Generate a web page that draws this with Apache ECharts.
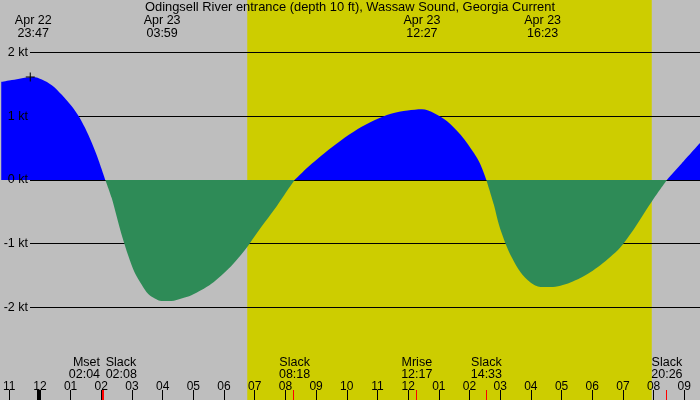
<!DOCTYPE html>
<html lang="en">
<head>
	<meta charset="UTF-8">
	<title>Odingsell River entrance current</title>
	<style>html,body{margin:0;padding:0;background:#bebebe;}</style>
</head>
<body>
	<div id="demo" style="width: 700px;height:400px;"></div>
	<script src="https://cdn.jsdelivr.net/npm/echarts@6/dist/echarts.min.js"></script>
	<script>
		// hours counted from Apr 23 00:00 (negative = Apr 22)
		var startHour = -1.237, endHour = 21.512;
		var sunrise = 6.757, sunset = 19.94;

		// current speed, knots (+ flood, - ebb)
		var times = [-1.26, -0.912, -0.587, -0.217, 0.063, 0.388, 0.713, 1.038, 1.255, 1.470, 1.693, 1.905, 2.133,
			2.338, 2.500, 2.663, 2.880, 3.095, 3.313, 3.530, 3.745, 3.963, 4.288, 4.613, 4.938, 5.263, 5.588,
			5.913, 6.238, 6.563, 6.832, 7.213, 7.645, 7.970, 8.300,
			8.73, 9.27, 9.81, 10.36, 10.90, 11.44, 11.98, 12.45, 12.85, 13.28, 13.71, 14.15, 14.36, 14.55,
			14.795, 14.957, 15.175, 15.393, 15.663, 15.988, 16.313, 16.638, 16.962, 17.287, 17.612, 17.937,
			18.262, 18.587, 18.912, 19.345, 19.670, 19.994, 20.433,
			20.97, 21.53];
		var speeds = [1.54, 1.57, 1.60, 1.62, 1.58, 1.49, 1.34, 1.16, 1.01, 0.82, 0.58, 0.32, 0,
			-0.28, -0.57, -0.86, -1.19, -1.46, -1.64, -1.79, -1.86, -1.90, -1.90, -1.86, -1.81, -1.73, -1.63,
			-1.50, -1.35, -1.17, -1.00, -0.74, -0.46, -0.23, 0,
			0.20, 0.42, 0.62, 0.80, 0.94, 1.04, 1.09, 1.11, 1.05, 0.92, 0.71, 0.42, 0.24, 0,
			-0.39, -0.70, -1.00, -1.23, -1.45, -1.61, -1.68, -1.68, -1.66, -1.61, -1.54, -1.45,
			-1.34, -1.21, -1.06, -0.78, -0.54, -0.30, 0,
			0.29, 0.59];

		var peakTimes = [-0.217, 3.983, 12.45, 16.383];
		var peakSpeeds = [1.62, -1.90, 1.11, -1.69];
		var peakLabels = ['Apr 22\n23:47', 'Apr 23\n03:59', 'Apr 23\n12:27', 'Apr 23\n16:23'];

		var eventTimes = [2.067, 2.133, 8.3, 12.283, 14.55, 20.433];
		var eventLabels = ['Mset\n02:04', 'Slack\n02:08', 'Slack\n08:18', 'Mrise\n12:17', 'Slack\n14:33', 'Slack\n20:26'];

		var hourTicks = [-1, 0, 1, 2, 3, 4, 5, 6, 7, 8, 9, 10, 11, 12, 13, 14, 15, 16, 17, 18, 19, 20, 21];
		var speedTicks = [-2, -1, 0, 1, 2];

		var FONT = 'Liberation Sans';
		var plotTop = 52.7, plotBottom = 307.3, H = 400;
		var pxPerKt = (plotBottom - plotTop) / (speedTicks[speedTicks.length - 1] - speedTicks[0]);
		var yMax = speedTicks[speedTicks.length - 1] + plotTop / pxPerKt;
		var yMin = speedTicks[0] - (H - plotBottom) / pxPerKt;

		var myChart = echarts.init(document.getElementById('demo'));

		function hourLabel(h) {
			var v = ((h % 12) + 12) % 12 || 12;
			return (v < 10 ? '0' : '') + v;
		}

		var flood = times.map(function(t, i) { return [t, speeds[i] >= 0 ? speeds[i] : '-']; });
		var ebb = times.map(function(t, i) { return [t, speeds[i] <= 0 ? speeds[i] : '-']; });

		var textStyle = { fontFamily: FONT, fontSize: 12.5, color: '#000' };

		// labels for max / min current along the top
		var topMarks = peakTimes.map(function(t, i) {
			return {
				coord: [t, 0], y: 27.5,
				symbolSize: 1, itemStyle: { color: 'transparent' },
				label: Object.assign({ show: true, position: 'inside', lineHeight: 13, formatter: peakLabels[i] }, textStyle)
			};
		});
		topMarks.push({
			coord: [peakTimes[0], peakSpeeds[0]],
			symbol: 'path://M0,4h9v1h-9z M4,0h1v9h-1z', symbolSize: 9, symbolOffset: [-3, 0],
			itemStyle: { color: '#000' }, label: { show: false }
		});

		// slack / moon event labels near the bottom; push apart events that are close
		var bottomMarks = eventTimes.map(function(t, i) {
			var pos = 'inside';
			if (i + 1 < eventTimes.length && eventTimes[i + 1] - t < 0.5) pos = 'left';
			if (i > 0 && t - eventTimes[i - 1] < 0.5) pos = 'right';
			return {
				coord: [t, 0], y: 369,
				symbolSize: 1, itemStyle: { color: 'transparent' },
				label: Object.assign({ show: true, position: pos, distance: pos === 'left' ? 3 : 0, lineHeight: 12,
					align: pos === 'left' ? 'right' : (pos === 'right' ? 'left' : 'center'),
					formatter: eventLabels[i] }, textStyle)
			};
		});

		var tickLines = eventTimes.map(function(t) {
			return { xAxis: t, lineStyle: { color: '#ff0000', width: 1, type: 'solid' } };
		});
		tickLines.push({ xAxis: 0, lineStyle: { color: '#000', width: 3, type: 'solid' } });

		var option = {
			animation: false,
			backgroundColor: '#bebebe',
			title: {
				text: 'Odingsell River entrance (depth 10 ft), Wassaw Sound, Georgia Current',
				left: 'center', top: 1, padding: 0,
				textStyle: { fontFamily: FONT, fontSize: 12.9, fontWeight: 'normal', color: '#000' }
			},
			grid: [
				{ left: 0, right: 0, top: 0, bottom: 0 },
				{ left: 30, right: 0, top: plotTop, height: plotBottom - plotTop },
				{ left: 0, right: 0, top: 390, bottom: 0 }
			],
			xAxis: [
				{
					type: 'value', gridIndex: 0, min: startHour, max: endHour, z: 3,
					axisLine: { show: false, onZero: false },
					splitLine: { show: false },
					axisTick: { show: true, inside: true, length: 10, customValues: hourTicks, lineStyle: { color: '#000', width: 1 } },
					axisLabel: { show: true, inside: true, margin: 7, customValues: hourTicks, formatter: hourLabel, fontFamily: FONT, fontSize: 12, color: '#000' }
				},
				{ type: 'value', gridIndex: 1, min: startHour, max: endHour, show: false },
				{ type: 'value', gridIndex: 2, min: startHour, max: endHour, show: false }
			],
			yAxis: [
				{ type: 'value', gridIndex: 0, min: yMin, max: yMax, show: false },
				{
					type: 'value', gridIndex: 1, position: 'left', min: speedTicks[0], max: speedTicks[speedTicks.length - 1], interval: 1, z: 1.5,
					axisLine: { show: false }, axisTick: { show: false }, axisLabel: { show: false },
					splitLine: { show: true, lineStyle: { color: '#000', width: 1 } }
				},
				{
					type: 'value', gridIndex: 1, position: 'left', min: speedTicks[0], max: speedTicks[speedTicks.length - 1], interval: 1, z: 10,
					axisLine: { show: false }, axisTick: { show: false }, splitLine: { show: false },
					axisLabel: { show: true, margin: 2, formatter: '{value} kt', fontFamily: FONT, fontSize: 12.5, color: '#000' }
				},
				{ type: 'value', gridIndex: 2, min: 0, max: 1, show: false }
			],
			series: [
				{
					name: 'flood', type: 'line', xAxisIndex: 0, yAxisIndex: 0,
					data: flood, smooth: 0.3, symbol: 'none', connectNulls: false,
					lineStyle: { width: 0 },
					areaStyle: { color: '#0000ff', opacity: 1 },
					markArea: {
						silent: true,
						itemStyle: { color: '#cdcd00', opacity: 1 },
						data: [[{ xAxis: sunrise }, { xAxis: sunset }]]
					},
					markPoint: { silent: true, data: topMarks.concat(bottomMarks) }
				},
				{
					name: 'ebb', type: 'line', xAxisIndex: 0, yAxisIndex: 0,
					data: ebb, smooth: 0.3, symbol: 'none', connectNulls: false,
					lineStyle: { width: 0 },
					areaStyle: { color: '#2e8b57', opacity: 1 }
				},
				{
					name: 'ticks', type: 'line', xAxisIndex: 2, yAxisIndex: 3, data: [],
					markLine: { silent: true, symbol: 'none', label: { show: false }, data: tickLines }
				}
			]
		};

		myChart.setOption(option);
	</script>
</body>
</html>
